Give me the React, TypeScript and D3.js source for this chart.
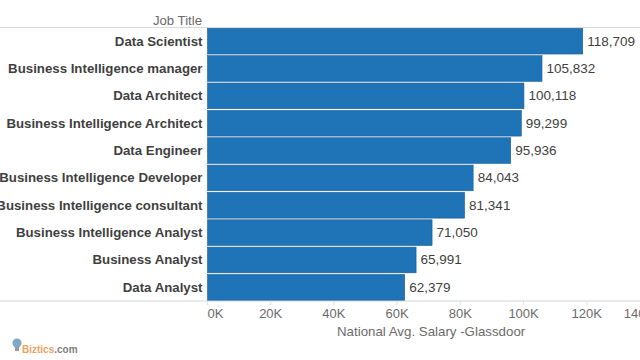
import React from "react";
import * as d3 from "d3";

const jobTitles = [
  "Data Scientist",
  "Business Intelligence manager",
  "Data Architect",
  "Business Intelligence Architect",
  "Data Engineer",
  "Business Intelligence Developer",
  "Business Intelligence consultant",
  "Business Intelligence Analyst",
  "Business Analyst",
  "Data Analyst",
];
const salaries = [118709, 105832, 100118, 99299, 95936, 84043, 81341, 71050, 65991, 62379];
const ticks = [0, 20000, 40000, 60000, 80000, 100000, 120000, 140000];

const FONT = "'Liberation Sans', Arial, sans-serif";
const BLUE = "#1f73b7";
const TEXT = "#3f3f3f";
const GREY = "#6b6b6b";

export default function App() {
  const x = d3.scaleLinear().domain([0, 140000]).range([207.5, 650]);
  const y = d3.scaleBand<string>().domain(jobTitles).range([27.5, 301]).paddingInner(0.06).paddingOuter(0.03);
  const fmt = d3.format(",");
  return (
    <svg width={640} height={360} style={{ position: "fixed", left: 0, top: 0, background: "#fff" }} fontFamily={FONT}>
      <line x1={0} x2={640} y1={27.5} y2={27.5} stroke="#d9d9d9" />
      <line x1={0} x2={640} y1={301} y2={301} stroke="#d4d4d4" />
      <text x={202} y={25} textAnchor="end" fontSize={13.2} fill={GREY}>Job Title</text>
      {jobTitles.map((t, i) => (
        <g key={t}>
          <rect x={x(0)} y={y(t)} width={x(salaries[i]) - x(0)} height={y.bandwidth()} fill={BLUE} stroke="#1b5f98" strokeWidth={0.6} />
          <text x={202.5} y={y(t)! + y.bandwidth() / 2 + 4.5} textAnchor="end" fontSize={13.25} fontWeight="bold" fill={TEXT}>{t}</text>
          <text x={x(salaries[i]) + 4.5} y={y(t)! + y.bandwidth() / 2 + 4.5} fontSize={13.5} fill={TEXT}>{fmt(salaries[i])}</text>
        </g>
      ))}
      {ticks.map((t, i) => {
        const anchor = i === 0 ? "start" : "middle";
        const px = i === 0 ? x(t) : i === ticks.length - 1 ? x(t) - 11 : x(t);
        return (
          <g key={t}>
            <line x1={x(t)} x2={x(t)} y1={301} y2={305} stroke="#e2e2e2" />
            <text x={px} y={318} textAnchor={anchor} fontSize={13} fill={GREY}>{d3.format("d")(t / 1000)}K</text>
          </g>
        );
      })}
      <text x={337} y={336} fontSize={13.3} fill={GREY}>National Avg. Salary -Glassdoor</text>
      <g>
        <circle cx={17} cy={343} r={4.5} fill="#7fa8c4" />
        <rect x={15} y={347} width={4} height={4} fill="#9a9a9a" />
        <text x={22} y={353} fontSize={10} fontWeight="bold" fill="#f0a060">Biztics<tspan fill="#808080">.com</tspan></text>
      </g>
    </svg>
  );
}
